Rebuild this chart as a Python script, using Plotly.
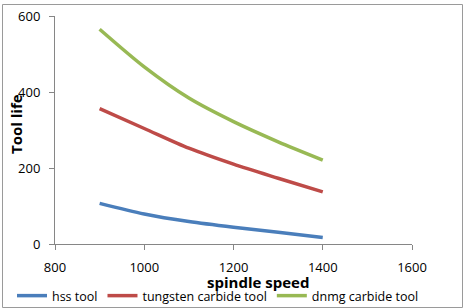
import plotly.graph_objects as go

speed = [900, 1000, 1100, 1200, 1300, 1400]
hss = [107, 79, 59, 44, 31, 17]
tungsten = [356, 304, 252, 210, 173, 137]
dnmg = [565, 466, 384, 322, 269, 221]

x_ticks = [800, 1000, 1200, 1400, 1600]
y_ticks = [0, 200, 400, 600]

W, H = 466, 308
L, R, T, B = 55, 54, 16, 64
pw, ph = W - L - R, H - T - B

def px(xp):
    return (xp - L) / pw

def py(yp):
    return (H - B - yp) / ph

font = "Open Sans, Liberation Sans, sans-serif"

fig = go.Figure()
for name, vals, col in [("hss tool", hss, "#4a7ebb"),
                        ("tungsten carbide tool", tungsten, "#be4b48"),
                        ("dnmg carbide tool", dnmg, "#98b954")]:
    fig.add_trace(go.Scatter(x=speed, y=vals, name=name, mode="lines",
                             line=dict(color=col, width=3.5, shape="spline", smoothing=0.8)))

axis_common = dict(showgrid=False, zeroline=False, showline=True, linecolor="#868686",
                   linewidth=1, ticks="outside", ticklen=5, tickcolor="#868686",
                   tickfont=dict(family=font, size=13, color="#000"))
fig.update_xaxes(range=[800, 1600], tickvals=x_ticks, ticklabelstandoff=6, **axis_common)
fig.update_yaxes(range=[0, 600], tickvals=y_ticks, ticklabelstandoff=6, **axis_common)

fig.add_annotation(text="<b>spindle speed</b>", xref="paper", yref="paper",
                   x=px(258), y=py(282), xanchor="center", yanchor="middle", showarrow=False,
                   font=dict(family=font, size=15, color="#000"))
fig.add_annotation(text="<b>Tool life</b>", xref="paper", yref="paper",
                   x=px(16), y=py(124), xanchor="center", yanchor="middle",
                   showarrow=False, textangle=-90,
                   font=dict(family=font, size=15, color="#000"))

fig.add_shape(type="rect", xref="paper", yref="paper",
              x0=px(2.5), x1=px(462.5), y0=py(307.5), y1=py(4.5),
              line=dict(color="#9a9a9a", width=1), layer="below")

fig.update_layout(
    width=W, height=H, margin=dict(l=L, r=R, t=T, b=B, autoexpand=False),
    paper_bgcolor="white", plot_bgcolor="white",
    font=dict(family=font, size=12, color="#000"),
    legend=dict(orientation="h", x=px(12), y=py(296), xanchor="left", yanchor="middle",
                font=dict(family=font, size=12.5),
                bgcolor="rgba(0,0,0,0)", tracegroupgap=0),
)

fig.write_html("out.html")
